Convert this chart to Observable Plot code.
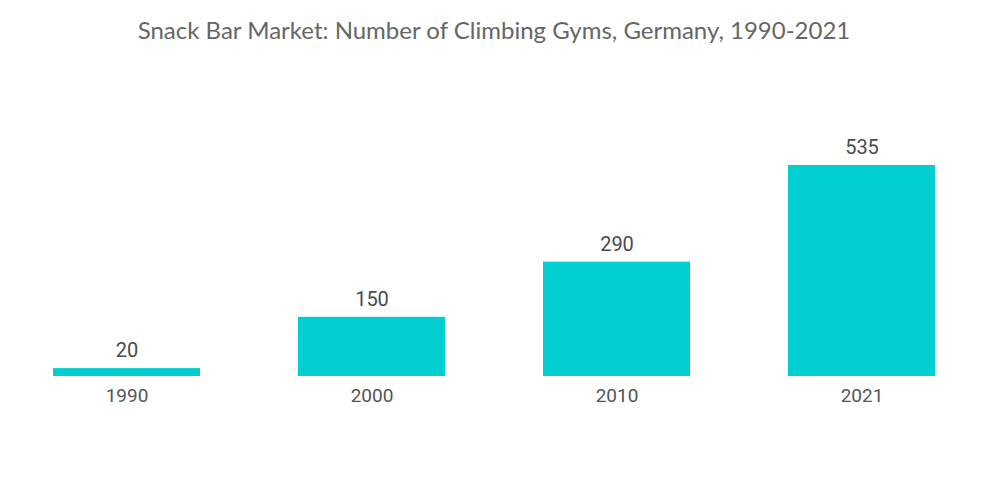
<!DOCTYPE html>
<html>
<head>
<meta charset="utf-8">
<script src="https://cdn.jsdelivr.net/npm/d3@7"></script>
<script src="https://cdn.jsdelivr.net/npm/@observablehq/plot@0.6"></script>
<style>
  html, body { margin: 0; padding: 0; background: #fff; }
  #title { height: 60px; line-height: 60px; text-align: center; font-family: Lato, "Open Sans", sans-serif; font-size: 24px; color: #666; padding-right: 12px; }
</style>
</head>
<body>
<div id="title">Snack Bar Market: Number of Climbing Gyms, Germany, 1990-2021</div>
<div id="chart"></div>
<script>
const years = ["1990", "2000", "2010", "2021"];
const gyms = [20, 150, 290, 535];
const data = years.map((y, i) => ({year: y, value: gyms[i]}));

const chart = Plot.plot({
  width: 1000,
  height: 444,
  marginTop: 105,
  marginBottom: 128,
  marginLeft: 3,
  marginRight: 16,
  style: {fontFamily: "Roboto, sans-serif", background: "#fff"},
  x: {domain: years, paddingInner: 0.4, paddingOuter: 0.2, label: null},
  y: {domain: [0, 535], axis: null},
  marks: [
    Plot.barY(data, {x: "year", y: "value", fill: "#00ced1"}),
    Plot.text(data, {x: "year", y: "value", text: d => String(d.value), dy: -18, fontSize: 20, fill: "#4a4a4a"}),
    Plot.axisX({tickSize: 0, tickPadding: 12, fontSize: 19, color: "#555", label: null})
  ]
});
document.getElementById("chart").appendChild(chart);
</script>
</body>
</html>
